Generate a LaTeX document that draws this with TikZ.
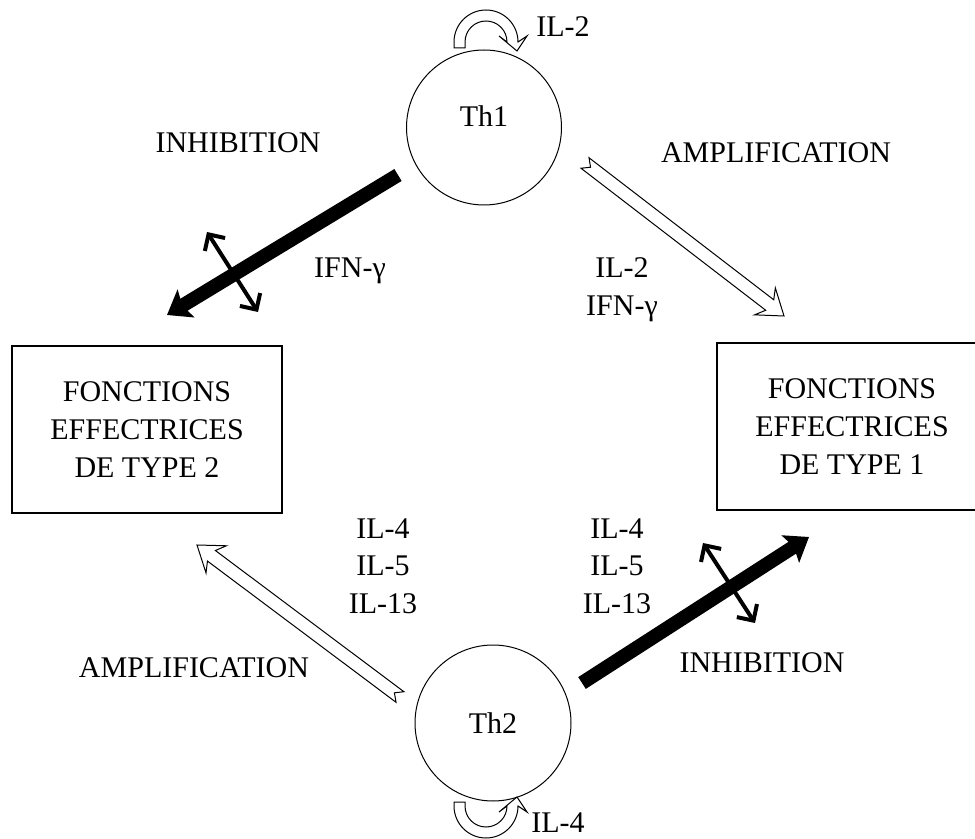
\documentclass[tikz,border=0pt]{standalone}
\usepackage{fontspec}
\setmainfont{Liberation Serif}
\usetikzlibrary{arrows.meta,calc}

% hollow arrow with notched tail, from #1 to #2
\newcommand{\hollowarrow}[2]{%
  \coordinate (hj) at ($(#2)!9pt!(#1)$);
  \coordinate (hb) at ($(#2)!12pt!(#1)$);
  \draw[ampli arrow] ($(#1)!3.3pt!90:(#2)$) -- ($(#1)!3.5pt!(#2)$) -- ($(#1)!3.3pt!-90:(#2)$)
    -- ($(hj)!3.3pt!-90:(#2)$) -- ($(hb)!8.5pt!-90:(#2)$) -- (#2)
    -- ($(hb)!8.5pt!90:(#2)$) -- ($(hj)!3.3pt!90:(#2)$) -- cycle;
}

\begin{document}
\begin{tikzpicture}[x=0.5pt,y=-0.5pt,
  main node/.style={circle,draw,line width=0.5pt,inner sep=0pt,minimum size=77.5pt,font=\fontsize{15}{18.8}\selectfont},
  box node/.style={rectangle,draw,line width=0.9pt,minimum width=135pt,minimum height=83.5pt,align=center,font=\fontsize{15}{18.8}\selectfont},
  label node/.style={align=center,inner sep=0pt,font=\fontsize{15}{18.8}\selectfont},
  inhib arrow/.style={line width=7pt,-{Stealth[length=11pt,width=16pt,inset=2pt]}},
  cross arrow/.style={line width=2pt,{Straight Barb[length=6pt,width=12pt]}-{Straight Barb[length=6pt,width=12pt]}},
  ampli arrow/.style={draw,line width=0.5pt,fill=white,line join=miter},
  loop arrow/.style={draw,line width=0.5pt,fill=white}]

  \clip (0,0) rectangle (975,839);

  \node[main node,text depth=11pt] (th1) at (484,127.5) {Th1};
  \node[main node,minimum size=78pt] (th2) at (493,723) {Th2};
  \node[box node] (type2) at (147,429.5) {FONCTIONS\\EFFECTRICES\\DE TYPE 2};
  \node[box node] (type1) at (852,426.5) {FONCTIONS\\EFFECTRICES\\DE TYPE 1};

  \node[label node] (il2) at (563,27) {IL-2};
  \node[label node] (il4) at (558,823) {IL-4};
  \node[label node] (inhib1) at (238,143) {INHIBITION};
  \node[label node] (ampli1) at (776,153) {AMPLIFICATION};
  \node[label node] (ifn2) at (350,271) {IFN-γ};
  \node[label node] (cyt1) at (622,290) {IL-2\\IFN-γ};
  \node[label node] (cyt2) at (383,566) {IL-4\\IL-5\\IL-13};
  \node[label node] (cyt3) at (617,566) {IL-4\\IL-5\\IL-13};
  \node[label node] (ampli2) at (194,668) {AMPLIFICATION};
  \node[label node] (inhib2) at (762,663) {INHIBITION};

  % arrow ends
  \coordinate (i1s) at (398,175);
  \coordinate (i1e) at (167,315);
  \coordinate (i2s) at (582,683);
  \coordinate (i2e) at (809,537);
  \coordinate (x1s) at (207,232);
  \coordinate (x1e) at (258,312);
  \coordinate (x2s) at (703,543);
  \coordinate (x2e) at (755,623);
  \coordinate (a1s) at (585,163);
  \coordinate (a1e) at (784,316);
  \coordinate (a2s) at (400,697);
  \coordinate (a2e) at (197,545);

  \draw[inhib arrow] (i1s) -- (i1e);
  \draw[inhib arrow] (i2s) -- (i2e);
  \draw[cross arrow] (x1s) -- (x1e);
  \draw[cross arrow] (x2s) -- (x2e);
  \hollowarrow{a1s}{a1e}
  \hollowarrow{a2s}{a2e}

  % self loops
  \draw[loop arrow] (454,48) -- (454,42) arc[start angle=180,end angle=360,radius=32]
    -- (527,36) -- (517,51) -- (499,36) -- (507,42)
    arc[start angle=360,end angle=180,radius=21] -- (465,48) -- cycle;
  \draw[loop arrow] (454,802) -- (454,806) arc[start angle=180,end angle=0,radius=32]
    -- (527,812) -- (517,797) -- (499,812) -- (507,806)
    arc[start angle=0,end angle=180,radius=21] -- (465,802) -- cycle;

\end{tikzpicture}
\end{document}
